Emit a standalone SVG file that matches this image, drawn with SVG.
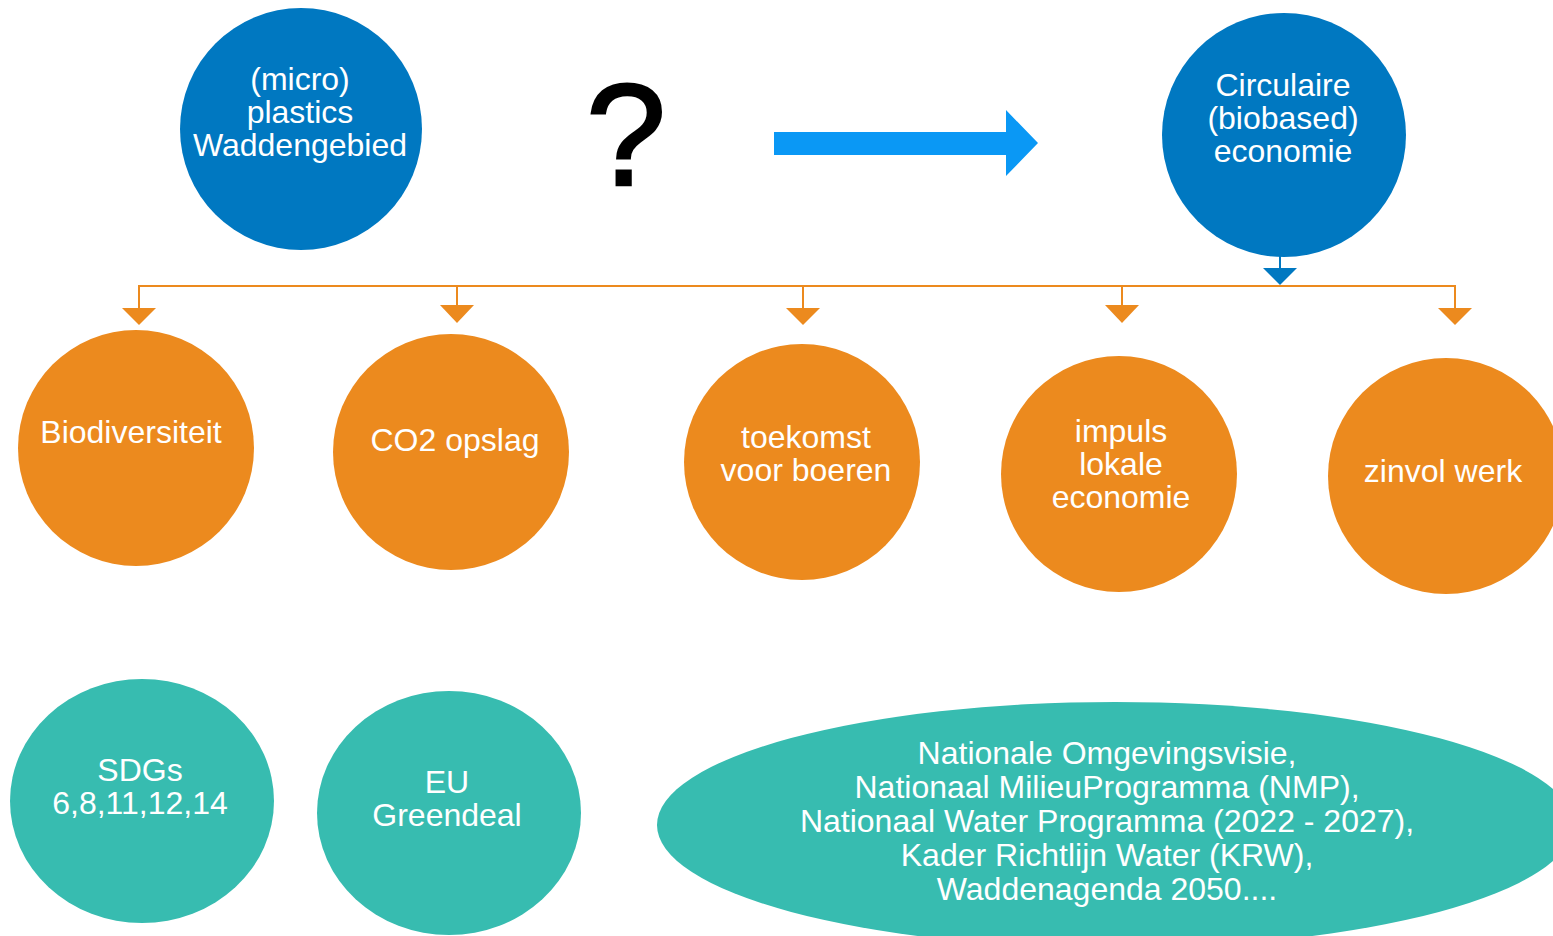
<svg xmlns="http://www.w3.org/2000/svg" width="1553" height="936" viewBox="0 0 1553 936">
<style>
.t{font-family:"Liberation Sans",Arial,sans-serif;font-size:32px;fill:#fff;text-anchor:middle}
.blue{fill:#0078C1}
.orange{fill:#EC8A1E}
.teal{fill:#37BCB0}
.ln{stroke:#EC8A1E;stroke-width:2;fill:none}
.tri{fill:#EC8A1E}
</style>
<rect width="1553" height="936" fill="#fff"/>
<g id="connectors">
<line class="ln" x1="138" y1="286" x2="1456" y2="286"/>
<line class="ln" x1="139" y1="286" x2="139" y2="310"/>
<polygon class="tri" points="122,308 156,308 139,325"/>
<line class="ln" x1="457" y1="286" x2="457" y2="307"/>
<polygon class="tri" points="440,305 474,305 457,323"/>
<line class="ln" x1="803" y1="286" x2="803" y2="310"/>
<polygon class="tri" points="786,308 820,308 803,325"/>
<line class="ln" x1="1122" y1="286" x2="1122" y2="307"/>
<polygon class="tri" points="1105,305 1139,305 1122,323"/>
<line class="ln" x1="1455" y1="286" x2="1455" y2="310"/>
<polygon class="tri" points="1438,308 1472,308 1455,325"/>
<line x1="1280" y1="255" x2="1280" y2="270" stroke="#0078C1" stroke-width="2"/>
<polygon points="1263,268 1297,268 1280,285" fill="#0078C1"/>
<polygon points="774,132 1006,132 1006,110 1038,143 1006,176 1006,155 774,155" fill="#0A98F5"/>
</g>
<g id="question"><text x="626" y="185" font-family="Liberation Sans,Arial,sans-serif" font-size="144" text-anchor="middle" fill="#000" stroke="#000" stroke-width="2.5">?</text></g>
<g id="microplastics">
<circle class="blue" cx="301" cy="129" r="121"/>
<text class="t" x="300" y="90">(micro)</text>
<text class="t" x="300" y="123">plastics</text>
<text class="t" x="300" y="156">Waddengebied</text>
</g>
<g id="circulaire">
<circle class="blue" cx="1284" cy="135" r="122"/>
<text class="t" x="1283" y="96">Circulaire</text>
<text class="t" x="1283" y="129">(biobased)</text>
<text class="t" x="1283" y="162">economie</text>
</g>
<g id="biodiversiteit">
<circle class="orange" cx="136" cy="448" r="118"/>
<text class="t" x="131" y="443">Biodiversiteit</text>
</g>
<g id="co2">
<circle class="orange" cx="451" cy="452" r="118"/>
<text class="t" x="455" y="451">CO2 opslag</text>
</g>
<g id="toekomst">
<circle class="orange" cx="802" cy="462" r="118"/>
<text class="t" x="806" y="448">toekomst</text>
<text class="t" x="806" y="481">voor boeren</text>
</g>
<g id="impuls">
<circle class="orange" cx="1119" cy="474" r="118"/>
<text class="t" x="1121" y="442">impuls</text>
<text class="t" x="1121" y="475">lokale</text>
<text class="t" x="1121" y="508">economie</text>
</g>
<g id="zinvol">
<circle class="orange" cx="1446" cy="476" r="118"/>
<text class="t" x="1443" y="482">zinvol werk</text>
</g>
<g id="sdgs">
<ellipse class="teal" cx="142" cy="801" rx="132" ry="122"/>
<text class="t" x="140" y="781">SDGs</text>
<text class="t" x="140" y="814">6,8,11,12,14</text>
</g>
<g id="eu">
<ellipse class="teal" cx="449" cy="813" rx="132" ry="122"/>
<text class="t" x="447" y="793">EU</text>
<text class="t" x="447" y="826">Greendeal</text>
</g>
<g id="nationaal">
<ellipse class="teal" cx="1115" cy="825" rx="458" ry="123"/>
<text class="t" x="1107" y="764">Nationale Omgevingsvisie,</text>
<text class="t" x="1107" y="798">Nationaal MilieuProgramma (NMP),</text>
<text class="t" x="1107" y="832">Nationaal Water Programma (2022 - 2027),</text>
<text class="t" x="1107" y="866">Kader Richtlijn Water (KRW),</text>
<text class="t" x="1107" y="900">Waddenagenda 2050....</text>
</g>
</svg>
